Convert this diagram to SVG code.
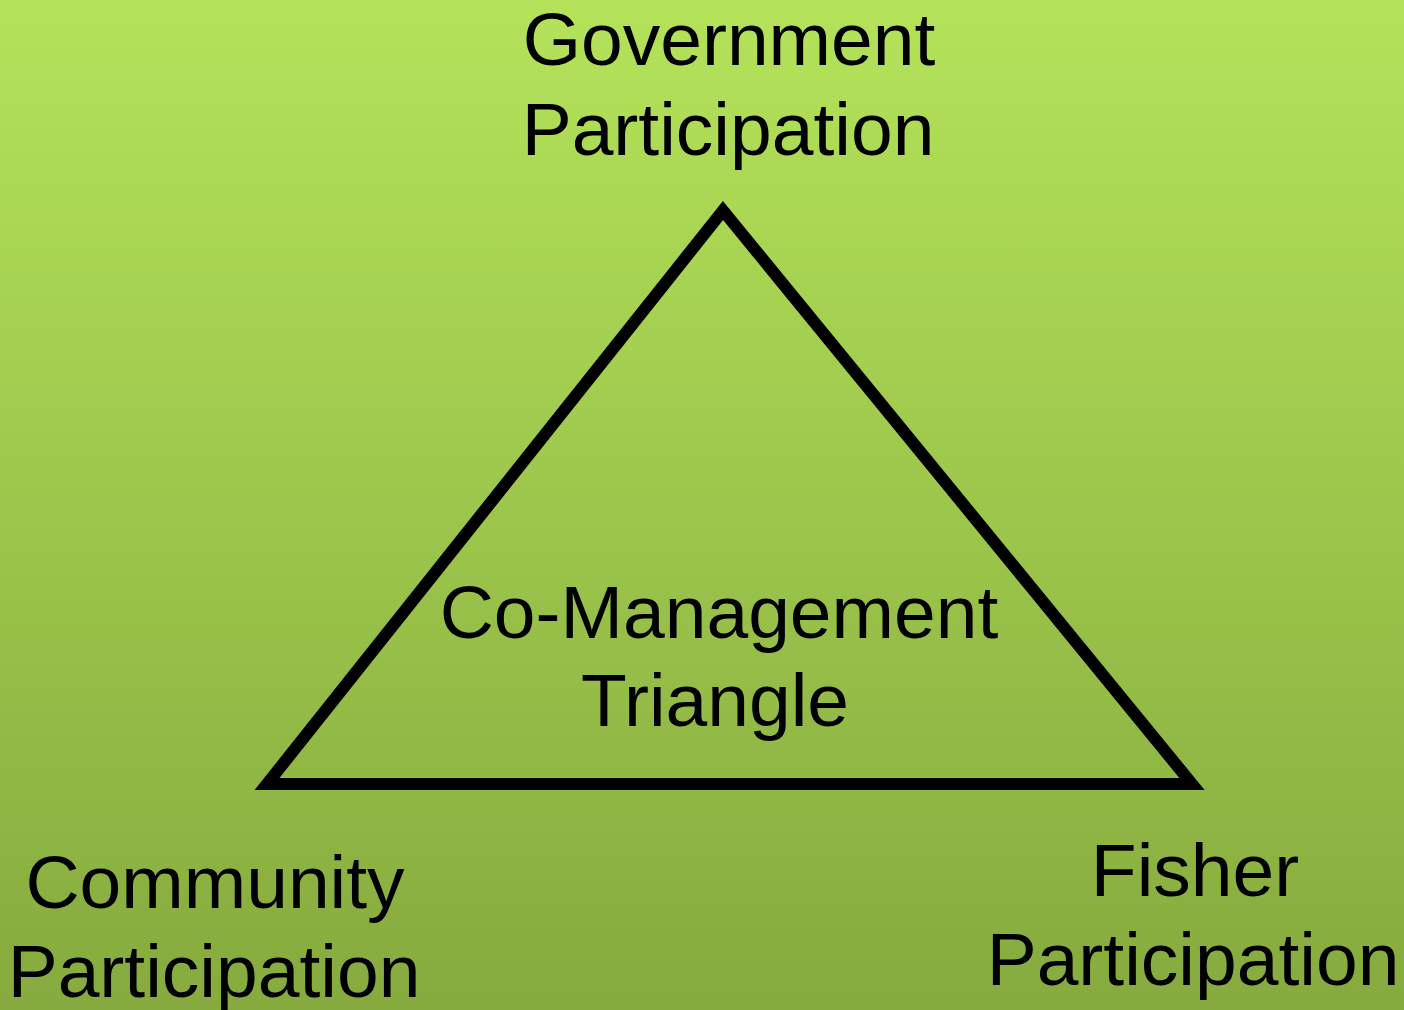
<svg xmlns="http://www.w3.org/2000/svg" width="1404" height="1010" viewBox="0 0 1404 1010">
  <defs>
    <linearGradient id="bg" x1="0" y1="0" x2="0" y2="1">
      <stop offset="0" stop-color="#b4e35a"/>
      <stop offset="1" stop-color="#86aa3e"/>
    </linearGradient>
  </defs>
  <style>
    .lbl { font-family: "Liberation Sans", Arial, sans-serif; font-size: 75px; fill: #000; text-anchor: middle; }
    .tri { fill: none; stroke: #000; stroke-width: 12; stroke-linejoin: miter; stroke-miterlimit: 10; }
  </style>
  <rect x="0" y="0" width="1404" height="1010" fill="url(#bg)"/>

  <g id="connectors">
    <polygon id="triangle" class="tri" points="723,210.5 267,784 1192,784"/>
  </g>

  <g id="government">
    <text class="lbl" x="729" y="65">Government</text>
    <text class="lbl" x="728" y="155">Participation</text>
  </g>

  <g id="center">
    <text class="lbl" x="719" y="638">Co-Management</text>
    <text class="lbl" x="715" y="726">Triangle</text>
  </g>

  <g id="community">
    <text class="lbl" x="215" y="908">Community</text>
    <text class="lbl" x="214" y="997">Participation</text>
  </g>

  <g id="fisher">
    <text class="lbl" x="1195" y="896">Fisher</text>
    <text class="lbl" x="1193" y="985">Participation</text>
  </g>
</svg>
